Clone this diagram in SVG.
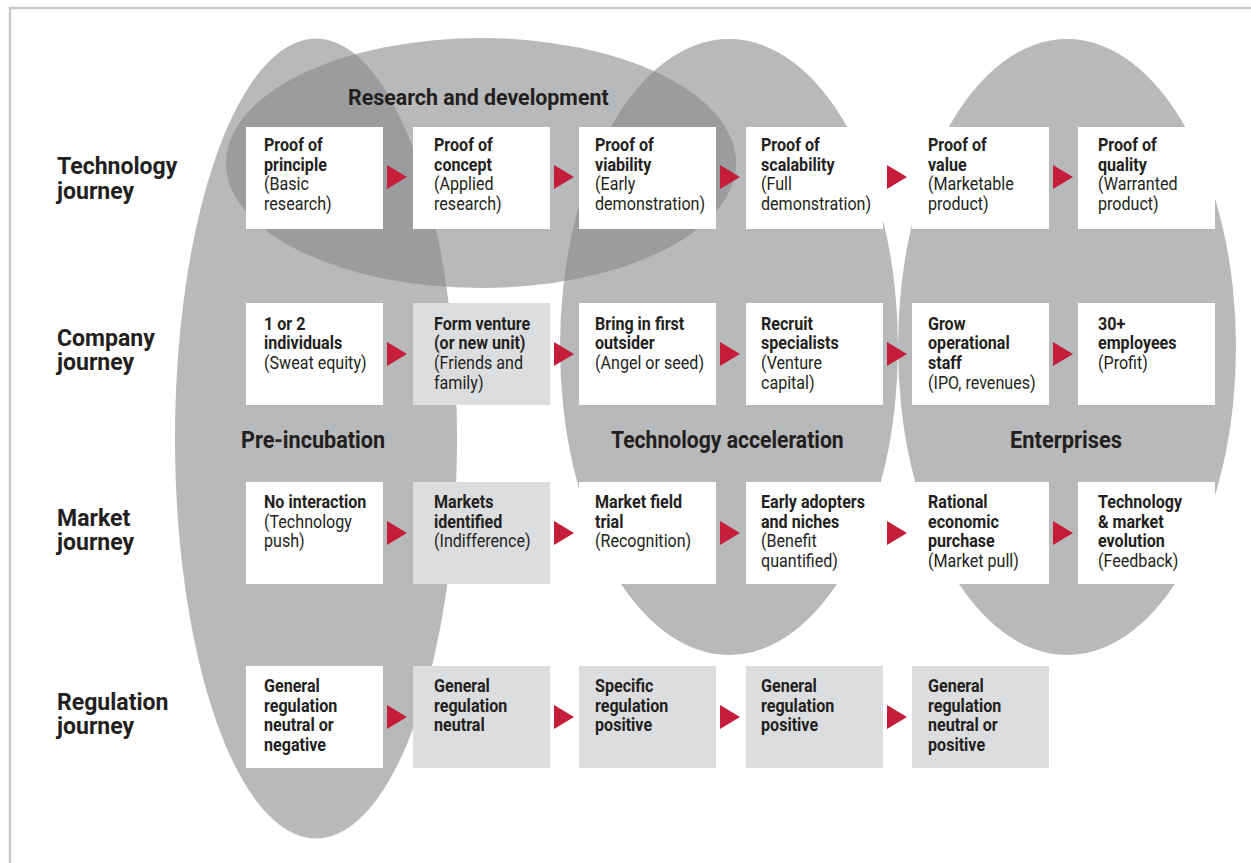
<svg xmlns="http://www.w3.org/2000/svg" width="1251" height="863" viewBox="0 0 1251 863">
<style>
.bg{fill:#ffffff}
.frame{fill:none;stroke:#c8c8c9;stroke-width:2.5}
.ell{fill:#87888a;fill-opacity:0.59}
.w{fill:#ffffff}
.g{fill:#dcdddf}
.arr{fill:#c41e3a}
text{font-family:Roboto,"Liberation Sans",sans-serif;fill:#231f20}
.t{font-size:18.5px;font-weight:400}
.b{font-weight:700}
.lab{font-size:24px;font-weight:700}
.grp{font-size:23px;font-weight:700}
</style>
<rect class="bg" x="0" y="0" width="1251" height="863"/>
<rect class="frame" x="10" y="8" width="1300" height="900"/>
<g id="regions">
<ellipse id="pre-incubation" class="ell" cx="316" cy="438.5" rx="141" ry="400"/>
<ellipse id="tech-acceleration" class="ell" cx="729" cy="347" rx="169" ry="308"/>
<ellipse id="enterprises" class="ell" cx="1067" cy="347" rx="169" ry="308"/>
<ellipse id="research-development" class="ell" cx="481" cy="163" rx="255" ry="125"/>
</g>
<g id="region-labels">
<text class="grp" transform="translate(348,105) scale(0.93,1)">Research and development</text>
<text class="grp" transform="translate(241,448) scale(0.94,1)">Pre-incubation</text>
<text class="grp" transform="translate(611,448) scale(0.92,1)">Technology acceleration</text>
<text class="grp" transform="translate(1010,448) scale(0.95,1)">Enterprises</text>
</g>
<g id="row-labels">
<text class="lab" transform="translate(57,174) scale(0.96,1)"><tspan x="0" y="0">Technology</tspan><tspan x="0" y="25">journey</tspan></text>
<text class="lab" transform="translate(57,345.5) scale(0.96,1)"><tspan x="0" y="0">Company</tspan><tspan x="0" y="25">journey</tspan></text>
<text class="lab" transform="translate(57,525.5) scale(0.96,1)"><tspan x="0" y="0">Market</tspan><tspan x="0" y="25">journey</tspan></text>
<text class="lab" transform="translate(57,709.5) scale(0.96,1)"><tspan x="0" y="0">Regulation</tspan><tspan x="0" y="25">journey</tspan></text>
</g>
<g id="connectors">
<polygon class="arr" points="387,165 407,177 387,189"/>
<polygon class="arr" points="554,165 574,177 554,189"/>
<polygon class="arr" points="720,165 740,177 720,189"/>
<polygon class="arr" points="887,165 907,177 887,189"/>
<polygon class="arr" points="1053,165 1073,177 1053,189"/>
<polygon class="arr" points="387,342 407,354 387,366"/>
<polygon class="arr" points="554,342 574,354 554,366"/>
<polygon class="arr" points="720,342 740,354 720,366"/>
<polygon class="arr" points="887,342 907,354 887,366"/>
<polygon class="arr" points="1053,342 1073,354 1053,366"/>
<polygon class="arr" points="387,521 407,533 387,545"/>
<polygon class="arr" points="554,521 574,533 554,545"/>
<polygon class="arr" points="720,521 740,533 720,545"/>
<polygon class="arr" points="887,521 907,533 887,545"/>
<polygon class="arr" points="1053,521 1073,533 1053,545"/>
<polygon class="arr" points="387,705 407,717 387,729"/>
<polygon class="arr" points="554,705 574,717 554,729"/>
<polygon class="arr" points="720,705 740,717 720,729"/>
<polygon class="arr" points="887,705 907,717 887,729"/>
</g>
<g id="tech-1"><rect class="w" x="246" y="127" width="137" height="102"/><text class="t" transform="translate(264,151) scale(0.87,1)"><tspan class="b" x="0" y="0">Proof of</tspan><tspan class="b" x="0" y="19.7">principle</tspan><tspan x="0" y="39.4">(Basic</tspan><tspan x="0" y="59.1">research)</tspan></text></g>
<g id="tech-2"><rect class="w" x="413" y="127" width="137" height="102"/><text class="t" transform="translate(434,151) scale(0.87,1)"><tspan class="b" x="0" y="0">Proof of</tspan><tspan class="b" x="0" y="19.7">concept</tspan><tspan x="0" y="39.4">(Applied</tspan><tspan x="0" y="59.1">research)</tspan></text></g>
<g id="tech-3"><rect class="w" x="579" y="127" width="137" height="102"/><text class="t" transform="translate(595,151) scale(0.87,1)"><tspan class="b" x="0" y="0">Proof of</tspan><tspan class="b" x="0" y="19.7">viability</tspan><tspan x="0" y="39.4">(Early</tspan><tspan x="0" y="59.1">demonstration)</tspan></text></g>
<g id="tech-4"><rect class="w" x="746" y="127" width="137" height="102"/><text class="t" transform="translate(761,151) scale(0.87,1)"><tspan class="b" x="0" y="0">Proof of</tspan><tspan class="b" x="0" y="19.7">scalability</tspan><tspan x="0" y="39.4">(Full</tspan><tspan x="0" y="59.1">demonstration)</tspan></text></g>
<g id="tech-5"><rect class="w" x="912" y="127" width="137" height="102"/><text class="t" transform="translate(928,151) scale(0.87,1)"><tspan class="b" x="0" y="0">Proof of</tspan><tspan class="b" x="0" y="19.7">value</tspan><tspan x="0" y="39.4">(Marketable</tspan><tspan x="0" y="59.1">product)</tspan></text></g>
<g id="tech-6"><rect class="w" x="1078" y="127" width="137" height="102"/><text class="t" transform="translate(1098,151) scale(0.87,1)"><tspan class="b" x="0" y="0">Proof of</tspan><tspan class="b" x="0" y="19.7">quality</tspan><tspan x="0" y="39.4">(Warranted</tspan><tspan x="0" y="59.1">product)</tspan></text></g>
<g id="company-1"><rect class="w" x="246" y="303" width="137" height="102"/><text class="t" transform="translate(264,329.5) scale(0.87,1)"><tspan class="b" x="0" y="0">1 or 2</tspan><tspan class="b" x="0" y="19.7">individuals</tspan><tspan x="0" y="39.4">(Sweat equity)</tspan></text></g>
<g id="company-2"><rect class="g" x="413" y="303" width="137" height="102"/><text class="t" transform="translate(434,329.5) scale(0.87,1)"><tspan class="b" x="0" y="0">Form venture</tspan><tspan class="b" x="0" y="19.7">(or new unit)</tspan><tspan x="0" y="39.4">(Friends and</tspan><tspan x="0" y="59.1">family)</tspan></text></g>
<g id="company-3"><rect class="w" x="579" y="303" width="137" height="102"/><text class="t" transform="translate(595,329.5) scale(0.87,1)"><tspan class="b" x="0" y="0">Bring in first</tspan><tspan class="b" x="0" y="19.7">outsider</tspan><tspan x="0" y="39.4">(Angel or seed)</tspan></text></g>
<g id="company-4"><rect class="w" x="746" y="303" width="137" height="102"/><text class="t" transform="translate(761,329.5) scale(0.87,1)"><tspan class="b" x="0" y="0">Recruit</tspan><tspan class="b" x="0" y="19.7">specialists</tspan><tspan x="0" y="39.4">(Venture</tspan><tspan x="0" y="59.1">capital)</tspan></text></g>
<g id="company-5"><rect class="w" x="912" y="303" width="137" height="102"/><text class="t" transform="translate(928,329.5) scale(0.87,1)"><tspan class="b" x="0" y="0">Grow</tspan><tspan class="b" x="0" y="19.7">operational</tspan><tspan class="b" x="0" y="39.4">staff</tspan><tspan x="0" y="59.1">(IPO, revenues)</tspan></text></g>
<g id="company-6"><rect class="w" x="1078" y="303" width="137" height="102"/><text class="t" transform="translate(1098,329.5) scale(0.87,1)"><tspan class="b" x="0" y="0">30+</tspan><tspan class="b" x="0" y="19.7">employees</tspan><tspan x="0" y="39.4">(Profit)</tspan></text></g>
<g id="market-1"><rect class="w" x="246" y="482" width="137" height="102"/><text class="t" transform="translate(264,508) scale(0.87,1)"><tspan class="b" x="0" y="0">No interaction</tspan><tspan x="0" y="19.7">(Technology</tspan><tspan x="0" y="39.4">push)</tspan></text></g>
<g id="market-2"><rect class="g" x="413" y="482" width="137" height="102"/><text class="t" transform="translate(434,508) scale(0.87,1)"><tspan class="b" x="0" y="0">Markets</tspan><tspan class="b" x="0" y="19.7">identified</tspan><tspan x="0" y="39.4">(Indifference)</tspan></text></g>
<g id="market-3"><rect class="w" x="579" y="482" width="137" height="102"/><text class="t" transform="translate(595,508) scale(0.87,1)"><tspan class="b" x="0" y="0">Market field</tspan><tspan class="b" x="0" y="19.7">trial</tspan><tspan x="0" y="39.4">(Recognition)</tspan></text></g>
<g id="market-4"><rect class="w" x="746" y="482" width="137" height="102"/><text class="t" transform="translate(761,508) scale(0.87,1)"><tspan class="b" x="0" y="0">Early adopters</tspan><tspan class="b" x="0" y="19.7">and niches</tspan><tspan x="0" y="39.4">(Benefit</tspan><tspan x="0" y="59.1">quantified)</tspan></text></g>
<g id="market-5"><rect class="w" x="912" y="482" width="137" height="102"/><text class="t" transform="translate(928,508) scale(0.87,1)"><tspan class="b" x="0" y="0">Rational</tspan><tspan class="b" x="0" y="19.7">economic</tspan><tspan class="b" x="0" y="39.4">purchase</tspan><tspan x="0" y="59.1">(Market pull)</tspan></text></g>
<g id="market-6"><rect class="w" x="1078" y="482" width="137" height="102"/><text class="t" transform="translate(1098,508) scale(0.87,1)"><tspan class="b" x="0" y="0">Technology</tspan><tspan class="b" x="0" y="19.7">&amp; market</tspan><tspan class="b" x="0" y="39.4">evolution</tspan><tspan x="0" y="59.1">(Feedback)</tspan></text></g>
<g id="regulation-1"><rect class="w" x="246" y="666" width="137" height="102"/><text class="t" transform="translate(264,692) scale(0.87,1)"><tspan class="b" x="0" y="0">General</tspan><tspan class="b" x="0" y="19.7">regulation</tspan><tspan class="b" x="0" y="39.4">neutral or</tspan><tspan class="b" x="0" y="59.1">negative</tspan></text></g>
<g id="regulation-2"><rect class="g" x="413" y="666" width="137" height="102"/><text class="t" transform="translate(434,692) scale(0.87,1)"><tspan class="b" x="0" y="0">General</tspan><tspan class="b" x="0" y="19.7">regulation</tspan><tspan class="b" x="0" y="39.4">neutral</tspan></text></g>
<g id="regulation-3"><rect class="g" x="579" y="666" width="137" height="102"/><text class="t" transform="translate(595,692) scale(0.87,1)"><tspan class="b" x="0" y="0">Specific</tspan><tspan class="b" x="0" y="19.7">regulation</tspan><tspan class="b" x="0" y="39.4">positive</tspan></text></g>
<g id="regulation-4"><rect class="g" x="746" y="666" width="137" height="102"/><text class="t" transform="translate(761,692) scale(0.87,1)"><tspan class="b" x="0" y="0">General</tspan><tspan class="b" x="0" y="19.7">regulation</tspan><tspan class="b" x="0" y="39.4">positive</tspan></text></g>
<g id="regulation-5"><rect class="g" x="912" y="666" width="137" height="102"/><text class="t" transform="translate(928,692) scale(0.87,1)"><tspan class="b" x="0" y="0">General</tspan><tspan class="b" x="0" y="19.7">regulation</tspan><tspan class="b" x="0" y="39.4">neutral or</tspan><tspan class="b" x="0" y="59.1">positive</tspan></text></g>
</svg>
